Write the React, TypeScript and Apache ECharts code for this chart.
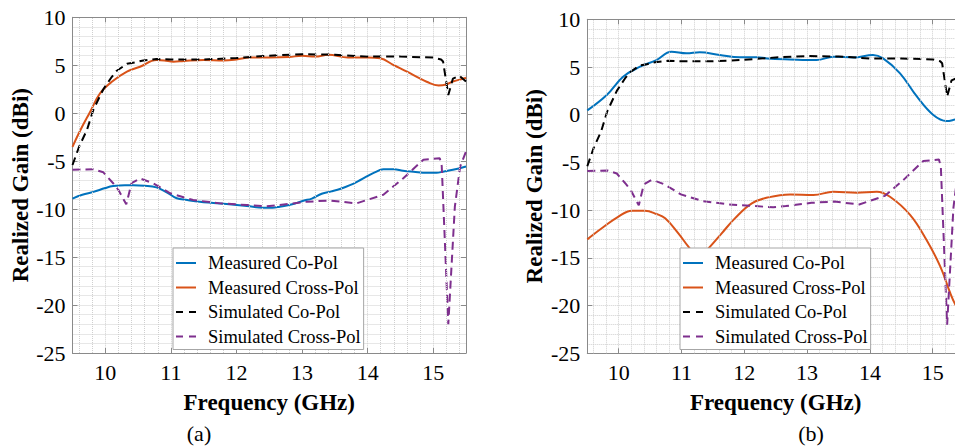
import React, { useEffect, useRef } from "react";
import * as echarts from "echarts";

// ---------- data ----------
const NAMES = ["Measured Co-Pol", "Measured Cross-Pol", "Simulated Co-Pol", "Simulated Cross-Pol"];
const PANEL_LABELS = ["(a)", "(b)"];
const X_TITLE = "Frequency (GHz)";
const Y_TITLE = "Realized Gain (dBi)";

// (a) measured co-pol
const aCoFreq = [9.5, 9.65, 9.82, 10.0, 10.12, 10.3, 10.43, 10.6, 10.78, 10.95, 11.09, 11.25, 11.44, 11.65, 11.85, 12.16, 12.41, 12.55, 12.66, 12.85, 13.02, 13.15, 13.3, 13.45, 13.6, 13.73, 13.85, 13.98, 14.1, 14.24, 14.4, 14.54, 14.7, 14.9, 15.05, 15.15, 15.3, 15.5];
const aCoGain = [-8.9, -8.5, -8.2, -7.8, -7.6, -7.5, -7.5, -7.55, -7.73, -8.3, -8.87, -9.05, -9.23, -9.35, -9.47, -9.68, -9.85, -9.85, -9.75, -9.5, -9.12, -8.9, -8.4, -8.15, -7.85, -7.5, -7.1, -6.62, -6.2, -5.85, -5.85, -6.0, -6.1, -6.2, -6.2, -6.1, -5.9, -5.55];
// (a) measured cross-pol
const aXFreq = [9.5, 9.61, 9.77, 9.92, 10.1, 10.33, 10.53, 10.78, 10.9, 11.04, 11.2, 11.5, 11.8, 12.0, 12.2, 12.5, 12.8, 13.0, 13.2, 13.4, 13.7, 14.0, 14.19, 14.4, 14.6, 14.75, 14.9, 15.08, 15.2, 15.3, 15.48, 15.5];
const aXGain = [-3.5, -1.9, 0.16, 2.07, 3.28, 4.33, 4.85, 5.55, 5.5, 5.37, 5.45, 5.55, 5.5, 5.6, 5.8, 5.8, 5.85, 6.0, 5.9, 6.1, 5.8, 5.8, 5.72, 5.0, 4.33, 3.8, 3.28, 2.9, 3.0, 3.3, 3.64, 3.7];
// (b) measured co-pol
const bCoFreq = [9.5, 9.81, 10.07, 10.34, 10.6, 10.84, 11.08, 11.29, 11.61, 11.93, 12.2, 12.36, 12.73, 13.15, 13.42, 13.74, 14.05, 14.21, 14.48, 14.75, 15.01, 15.22, 15.36, 15.5];
const bCoGain = [0.45, 2.07, 3.98, 5.03, 5.73, 6.6, 6.43, 6.54, 6.26, 6.02, 6.02, 5.9, 5.8, 5.73, 6.08, 6.0, 6.26, 5.9, 4.34, 1.89, -0.03, -0.66, -0.5, -0.3];
// (b) measured cross-pol
const bXFreq = [9.5, 9.73, 9.99, 10.21, 10.42, 10.6, 10.74, 10.95, 11.11, 11.27, 11.43, 11.64, 11.85, 12.12, 12.38, 12.73, 13.1, 13.42, 13.79, 14.11, 14.32, 14.64, 14.9, 15.12, 15.28, 15.36, 15.5];
const bXGain = [-13.06, -11.9, -10.7, -10.06, -10.06, -10.4, -10.86, -12.43, -13.83, -15.0, -14.0, -12.43, -10.86, -9.29, -8.66, -8.35, -8.42, -8.07, -8.17, -8.07, -8.6, -10.5, -13.1, -15.9, -18.7, -19.9, -21.5];
// simulated co-pol (same in both panels)
const simCoFreq = [9.5, 9.6, 9.72, 9.82, 9.97, 10.1, 10.17, 10.33, 10.45, 10.58, 10.78, 11.0, 11.5, 12.0, 12.5, 13.0, 13.5, 14.0, 14.5, 15.0, 15.12, 15.15, 15.23, 15.3, 15.4, 15.5];
const simCoGain = [-5.4, -3.5, -1.75, 0.4, 2.5, 3.8, 4.4, 5.15, 5.3, 5.5, 5.65, 5.6, 5.6, 5.75, 6.0, 6.15, 6.1, 5.9, 5.9, 5.8, 5.6, 5.4, 1.9, 3.6, 3.9, 3.3];
// simulated cross-pol (same in both panels)
const simXFreq = [9.5, 9.82, 9.97, 10.12, 10.2, 10.32, 10.4, 10.53, 10.73, 10.99, 11.34, 11.75, 12.16, 12.46, 12.66, 13.07, 13.43, 13.83, 14.24, 14.54, 14.85, 15.1, 15.13, 15.23, 15.33, 15.41, 15.5];
const simXGain = [-5.9, -5.85, -6.16, -7.3, -8.0, -9.5, -7.3, -6.8, -7.3, -8.35, -9.05, -9.4, -9.57, -9.7, -9.57, -9.23, -9.1, -9.4, -8.5, -6.8, -4.85, -4.7, -5.5, -22.0, -9.75, -5.58, -4.0];

const X_MIN = 9.5;
const X_MAX = 15.5;
const Y_MIN = -25;
const Y_MAX = 10;

const zip = (xs: number[], ys: number[]) => xs.map((x, i) => [x, ys[i]]);

const FONT = "Liberation Serif";
const COLORS = ["#0072BD", "#D95319", "#000000", "#7E2F8E"];
const DASH = [8, 5];
const AXIS_GRAY = "#8a8a8a";
const GRID_GRAY = "#cfcfcf";

// legend layout
const LEGEND_LEFT = [173, 680];
const LEGEND_TOP = 248;
const LEGEND_PAD = [5, 3, 3, 3];
const LEGEND_ICON_W = 20;
const LEGEND_LINE_H = 20;
const LEGEND_GAP = 4.5;

export default function App() {
  const ref = useRef<HTMLDivElement>(null);

  useEffect(() => {
    if (!ref.current) return;
    const chart = echarts.init(ref.current, undefined, { renderer: "svg" });

    const grids = [
      { left: 72.5, top: 17.3, width: 393.5, height: 335.7, outerBoundsMode: "none", containLabel: false },
      { left: 587.3, top: 19.3, width: 376.8, height: 334, outerBoundsMode: "none", containLabel: false },
    ];

    // minor vertical grid positions (every 0.2 GHz, non-integer)
    const minorX: number[] = [];
    for (let k = Math.round(X_MIN * 5); k <= Math.round(X_MAX * 5); k++) {
      const v = k / 5;
      if (v > X_MIN && v < X_MAX && Math.abs(v - Math.round(v)) > 1e-6) minorX.push(+v.toFixed(2));
    }

    const xAxis: any[] = [];
    const yAxis: any[] = [];
    const series: any[] = [];
    const legend: any[] = [];
    const graphic: any[] = [];
    const panelData = [
      [zip(aCoFreq, aCoGain), zip(aXFreq, aXGain), zip(simCoFreq, simCoGain), zip(simXFreq, simXGain)],
      [zip(bCoFreq, bCoGain), zip(bXFreq, bXGain), zip(simCoFreq, simCoGain), zip(simXFreq, simXGain)],
    ];

    grids.forEach((_, gi) => {
      xAxis.push({
        gridIndex: gi,
        type: "value",
        min: X_MIN,
        max: X_MAX,
        splitNumber: 6,
        position: "bottom",
        name: X_TITLE,
        nameLocation: "middle",
        nameGap: 38,
        nameTextStyle: { fontFamily: FONT, fontWeight: "bold", fontSize: 23, color: "#000" },
        axisLine: { show: true, onZero: false, lineStyle: { color: AXIS_GRAY, width: 1 } },
        axisTick: { show: true, inside: true, length: 5, lineStyle: { color: AXIS_GRAY } },
        axisLabel: {
          color: "#000",
          fontFamily: FONT,
          fontSize: 22,
          margin: 8,
          formatter: (v: number) => (Math.abs(v - Math.round(v)) < 1e-6 ? String(Math.round(v)) : ""),
        },
        splitLine: { show: true, lineStyle: { color: GRID_GRAY, type: "dotted", width: 1 } },
      });
      xAxis.push({
        gridIndex: gi,
        type: "value",
        min: X_MIN,
        max: X_MAX,
        splitNumber: 6,
        position: "top",
        axisLine: { show: true, onZero: false, lineStyle: { color: AXIS_GRAY, width: 1 } },
        axisTick: { show: true, inside: true, length: 5, lineStyle: { color: AXIS_GRAY } },
        axisLabel: { show: false },
        splitLine: { show: false },
      });
      yAxis.push({
        gridIndex: gi,
        type: "value",
        min: Y_MIN,
        max: Y_MAX,
        interval: 5,
        position: "left",
        name: Y_TITLE,
        nameLocation: "middle",
        nameGap: 41,
        nameTextStyle: { fontFamily: FONT, fontWeight: "bold", fontSize: 23, color: "#000" },
        axisLine: { show: true, onZero: false, lineStyle: { color: AXIS_GRAY, width: 1 } },
        axisTick: { show: true, inside: true, length: 5, lineStyle: { color: AXIS_GRAY } },
        axisLabel: { color: "#000", fontFamily: FONT, fontSize: 22, margin: 7 },
        splitLine: { show: true, lineStyle: { color: GRID_GRAY, type: "dotted", width: 1 } },
        minorTick: { show: false, splitNumber: 5 },
        minorSplitLine: { show: true, lineStyle: { color: GRID_GRAY, type: "dotted", width: 1 } },
      });
      yAxis.push({
        gridIndex: gi,
        type: "value",
        min: Y_MIN,
        max: Y_MAX,
        interval: 5,
        position: "right",
        axisLine: { show: true, onZero: false, lineStyle: { color: AXIS_GRAY, width: 1 } },
        axisTick: { show: true, inside: true, length: 5, lineStyle: { color: AXIS_GRAY } },
        axisLabel: { show: false },
        splitLine: { show: false },
      });

      // helper series carrying the minor vertical grid lines
      series.push({
        type: "line",
        name: "grid-helper-" + gi,
        xAxisIndex: gi * 2,
        yAxisIndex: gi * 2,
        data: [],
        z: 1,
        silent: true,
        markLine: {
          silent: true,
          symbol: ["none", "none"],
          label: { show: false },
          lineStyle: { color: GRID_GRAY, type: "dotted", width: 1 },
          data: minorX.map((v) => ({ xAxis: v })),
        },
      });

      NAMES.forEach((name, si) => {
        const dashed = si >= 2;
        series.push({
          type: "line",
          name,
          xAxisIndex: gi * 2,
          yAxisIndex: gi * 2,
          data: panelData[gi][si],
          symbol: "none",
          showSymbol: false,
          smooth: dashed ? false : 0.4,
          z: 3,
          lineStyle: { color: COLORS[si], width: 2, type: dashed ? DASH : "solid" },
          itemStyle: { color: COLORS[si] },
        });

        // legend sample line
        const iy = LEGEND_TOP + LEGEND_PAD[0] + si * (LEGEND_LINE_H + LEGEND_GAP) + LEGEND_LINE_H / 2;
        const ix = LEGEND_LEFT[gi] + LEGEND_PAD[3];
        graphic.push({
          type: "line",
          z: 100,
          silent: true,
          shape: { x1: ix, y1: iy, x2: ix + LEGEND_ICON_W, y2: iy },
          style: { stroke: COLORS[si], lineWidth: 2, lineDash: dashed ? [7, 6] : null },
        });
      });

      legend.push({
        data: NAMES,
        left: LEGEND_LEFT[gi],
        top: LEGEND_TOP,
        orient: "vertical",
        icon: "none",
        itemWidth: LEGEND_ICON_W,
        itemHeight: 14,
        itemGap: LEGEND_GAP,
        padding: LEGEND_PAD,
        borderColor: "#a6a6a6",
        borderWidth: 1,
        borderRadius: 0,
        backgroundColor: "#ffffff",
        selectedMode: false,
        z: 10,
        textStyle: { fontFamily: FONT, fontSize: 18.5, color: "#000", lineHeight: LEGEND_LINE_H, padding: [0, 0, 0, 7] },
      });
    });

    PANEL_LABELS.forEach((t, i) => {
      graphic.push({
        type: "text",
        x: [199, 811][i],
        y: 433,
        style: { text: t, font: `22px '${FONT}'`, fill: "#000", align: "center", verticalAlign: "middle" },
      });
    });

    chart.setOption({
      animation: false,
      backgroundColor: "#ffffff",
      textStyle: { fontFamily: FONT },
      grid: grids,
      xAxis,
      yAxis,
      legend,
      series,
      graphic,
    });

    return () => chart.dispose();
  }, []);

  return (
    <div style={{ position: "fixed", left: 0, top: 0, width: 955, height: 446, overflow: "hidden", background: "#fff" }}>
      <div ref={ref} style={{ position: "absolute", left: 0, top: 0, width: 980, height: 446 }} />
    </div>
  );
}
